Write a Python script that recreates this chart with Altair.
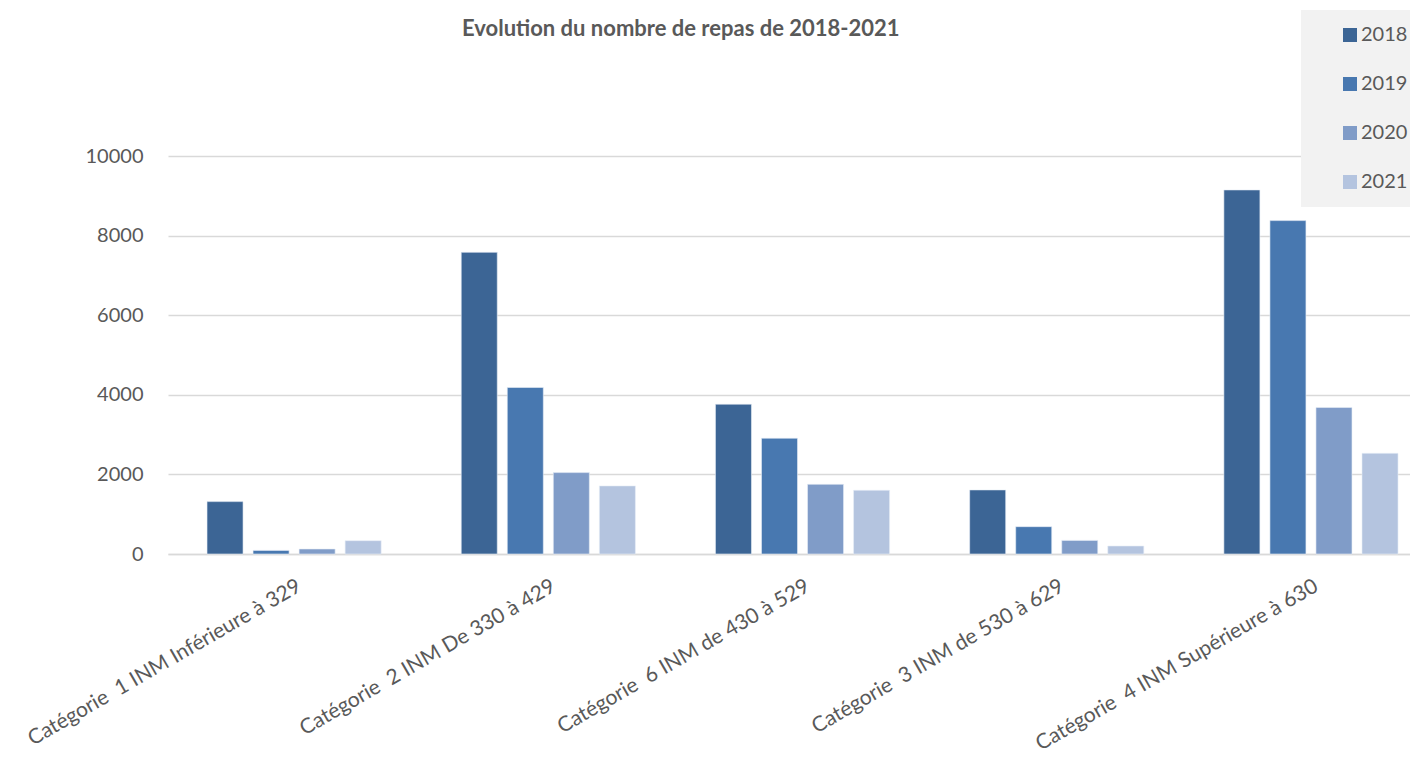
import altair as alt
import pandas as pd

categories = [
    "Catégorie  1 INM Inférieure à 329",
    "Catégorie  2 INM De 330 à 429",
    "Catégorie  6 INM de 430 à 529",
    "Catégorie  3 INM de 530 à 629",
    "Catégorie  4 INM Supérieure à 630",
]
years = ["2018", "2019", "2020", "2021"]
v2018 = [1316, 7580, 3764, 1610, 9147]
v2019 = [91, 4184, 2909, 687, 8377]
v2020 = [126, 2045, 1751, 342, 3680]
v2021 = [335, 1711, 1600, 201, 2531]
colors = ["#3C6595", "#4878B0", "#809CC8", "#B4C4DF"]
y_ticks = [0, 2000, 4000, 6000, 8000, 10000]

rows = []
for year, vals in zip(years, [v2018, v2019, v2020, v2021]):
    for cat, v in zip(categories, vals):
        rows.append({"Catégorie": cat, "Année": year, "Repas": v})
df = pd.DataFrame(rows)

TXT = "#595959"
GRID = "#D9D9D9"
FONT = "Lato"

chart = (
    alt.Chart(df)
    .mark_bar(stroke="#E8EEF7", strokeWidth=0.6)
    .encode(
        x=alt.X(
            "Catégorie:N",
            sort=categories,
            scale=alt.Scale(paddingInner=0.2756, paddingOuter=0.0806, align=0.83),
            axis=alt.Axis(
                title=None,
                labelAngle=-30,
                labelAlign="right",
                labelBaseline="top",
                labelPadding=21,
                labelFontSize=21,
                labelFont=FONT,
                labelColor=TXT,
                labelExpr="replace(datum.label, '  ', '\u00a0 ')",
                ticks=False,
                domain=True,
                domainColor=GRID,
                domainWidth=1.3,
                labelLimit=600,
            ),
        ),
        xOffset=alt.XOffset(
            "Année:N",
            sort=years,
            scale=alt.Scale(paddingInner=0.2174, paddingOuter=0.1087),
        ),
        y=alt.Y(
            "Repas:Q",
            scale=alt.Scale(domain=[0, 10000], nice=False),
            axis=alt.Axis(
                title=None,
                values=y_ticks,
                format="d",
                domain=False,
                ticks=False,
                grid=True,
                gridColor=GRID,
                gridWidth=1.3,
                labelFontSize=20,
                labelFont=FONT,
                labelColor=TXT,
                labelPadding=25,
            ),
        ),
        color=alt.Color(
            "Année:N",
            sort=years,
            scale=alt.Scale(domain=years, range=colors),
            legend=alt.Legend(
                title=None,
                orient="none",
                legendX=1133,
                legendY=-146,
                fillColor="#F2F2F2",
                padding=15,
                symbolOffset=24,
                symbolType="square",
                symbolSize=196,
                symbolStrokeWidth=0,
                labelFontSize=20,
                labelFont=FONT,
                labelColor=TXT,
                labelOffset=1,
                rowPadding=29,
            ),
        ),
    )
    .properties(
        width=1242,
        height=398,
        title=alt.TitleParams(
            "Evolution du nombre de repas de 2018-2021",
            anchor="start",
            frame="group",
            dx=294,
            dy=48,
            offset=0,
            baseline="alphabetic",
            font=FONT,
            fontSize=22,
            fontWeight="bold",
            color=TXT,
        ),
        autosize=alt.AutoSizeParams(type="none"),
        padding={"left": 160, "top": 148, "right": 0, "bottom": 203},
    )
    .configure_view(stroke=None)
)

chart.save("out.html", embed_options={"renderer": "svg", "actions": False})
